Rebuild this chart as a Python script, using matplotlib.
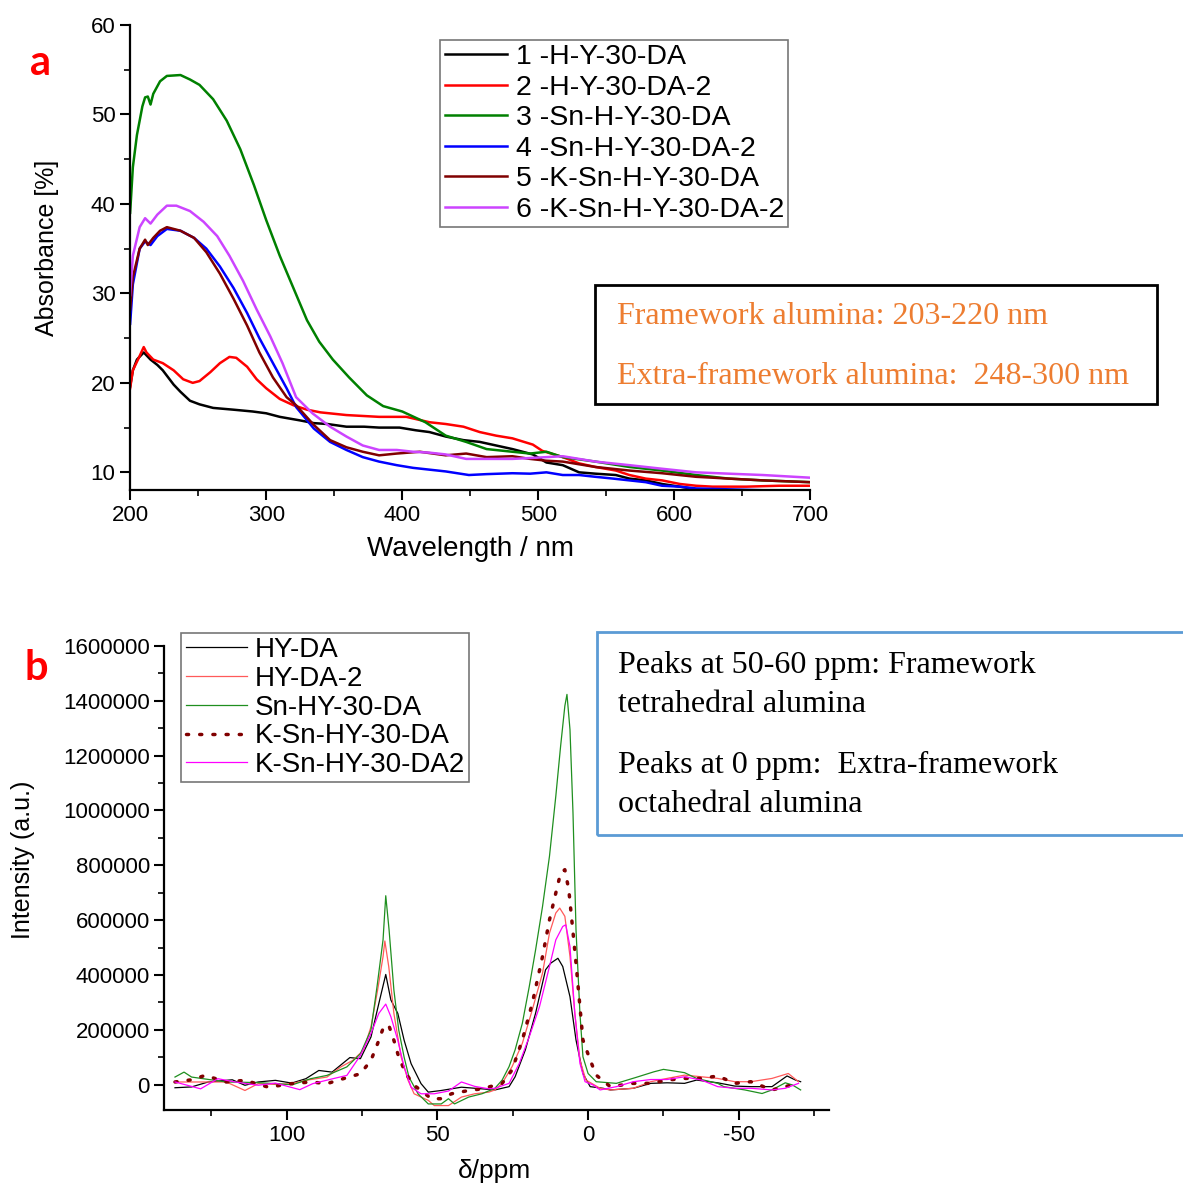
import matplotlib
matplotlib.use("Agg")
import matplotlib.pyplot as plt
from matplotlib.patches import Rectangle
from matplotlib.ticker import MultipleLocator

plt.rcParams['font.family'] = ['Liberation Sans', 'DejaVu Sans']
plt.rcParams['axes.unicode_minus'] = False

# ---------- panel a: UV-vis ----------
nm_1 = [200, 202, 205, 210, 215, 220, 224, 232, 237, 244, 251, 261, 276, 290, 300, 310, 325, 335, 345, 359, 372,
        383, 398, 410, 420, 432, 445, 457, 469, 481, 496, 506, 518, 530, 542, 557, 567, 579, 591, 604, 616, 628, 650, 700]
abs_1 = [19.6, 21.4, 22.6, 23.4, 22.6, 22.0, 21.4, 19.8, 19.0, 18.0, 17.6, 17.2, 17.0, 16.8, 16.6, 16.2, 15.8, 15.5, 15.4,
         15.1, 15.1, 15.0, 15.0, 14.7, 14.5, 14.0, 13.6, 13.4, 13.0, 12.6, 12.0, 11.1, 10.8, 10.0, 9.85, 9.7, 9.3, 9.1,
         8.7, 8.4, 8.1, 7.9, 7.9, 7.9]
nm_2 = [200, 202, 207, 210, 212, 217, 224, 232, 239, 246, 251, 259, 266, 273, 278, 286, 293, 300, 310, 320, 330, 340,
        359, 383, 403, 420, 432, 445, 457, 469, 481, 496, 503, 518, 530, 542, 557, 567, 579, 591, 604, 616, 628, 653, 677, 700]
abs_2 = [19.4, 21.4, 23.0, 24.0, 23.4, 22.6, 22.2, 21.4, 20.4, 20.0, 20.2, 21.2, 22.2, 22.9, 22.8, 21.8, 20.4, 19.4, 18.2,
         17.5, 17.0, 16.7, 16.4, 16.2, 16.2, 15.6, 15.4, 15.1, 14.5, 14.1, 13.8, 13.1, 12.4, 11.7, 11.0, 10.6, 10.2, 9.7,
         9.3, 9.1, 8.7, 8.5, 8.4, 8.4, 8.5, 8.5]
nm_3 = [200, 202, 205, 209, 211, 213, 215, 217, 222, 227, 237, 244, 251, 261, 271, 281, 291, 300, 310, 320, 330, 339,
        349, 361, 374, 386, 400, 417, 432, 447, 462, 481, 494, 506, 518, 542, 567, 591, 616, 640, 665, 700]
abs_3 = [39.0, 44.1, 47.7, 50.9, 51.9, 52.0, 51.1, 52.3, 53.7, 54.3, 54.4, 53.9, 53.3, 51.7, 49.3, 46.1, 42.1, 38.2, 34.2,
         30.6, 27.0, 24.6, 22.6, 20.6, 18.6, 17.4, 16.8, 15.6, 14.1, 13.4, 12.6, 12.3, 12.1, 12.3, 11.7, 11.2, 10.6, 10.2,
         9.7, 9.3, 9.1, 8.9]
nm_4 = [200, 202, 207, 211, 215, 220, 227, 237, 247, 256, 266, 276, 286, 295, 305, 315, 322, 335, 347, 359, 371, 383,
        396, 408, 420, 432, 449, 462, 481, 494, 506, 518, 530, 542, 555, 567, 579, 591, 604, 616, 640, 665, 700]
abs_4 = [26.6, 31.0, 35.0, 35.8, 35.4, 36.4, 37.2, 37.0, 36.2, 35.0, 33.0, 30.6, 27.8, 25.0, 22.2, 19.4, 17.3, 14.9, 13.4,
         12.5, 11.7, 11.2, 10.8, 10.5, 10.3, 10.1, 9.7, 9.8, 9.9, 9.85, 10.0, 9.7, 9.7, 9.5, 9.3, 9.1, 8.9, 8.5, 8.4, 8.2,
         8.1, 8.0, 8.0]
nm_5 = [200, 202, 207, 211, 213, 217, 222, 227, 237, 247, 256, 266, 276, 286, 295, 305, 315, 322, 335, 347, 359, 371,
        383, 396, 413, 432, 447, 462, 481, 494, 506, 518, 542, 567, 591, 616, 640, 665, 700]
abs_5 = [28.2, 31.8, 35.0, 36.0, 35.4, 36.2, 37.0, 37.4, 37.0, 36.2, 34.6, 32.2, 29.4, 26.4, 23.4, 20.6, 18.4, 17.5, 15.3,
         13.6, 12.8, 12.3, 11.9, 12.1, 12.3, 11.9, 12.1, 11.7, 11.8, 11.5, 11.3, 11.2, 10.6, 10.2, 9.9, 9.5, 9.3, 9.1, 8.9]
nm_6 = [200, 202, 207, 211, 215, 220, 227, 234, 244, 254, 264, 273, 283, 293, 303, 312, 322, 334, 347, 359, 371, 383,
        396, 408, 420, 432, 447, 462, 481, 494, 518, 530, 542, 567, 591, 616, 640, 665, 700]
abs_6 = [29.8, 34.2, 37.4, 38.4, 37.8, 38.8, 39.8, 39.8, 39.2, 38.0, 36.4, 34.2, 31.4, 28.2, 25.2, 22.2, 18.4, 16.6, 15.1,
         14.0, 13.0, 12.5, 12.5, 12.3, 12.2, 12.0, 11.5, 11.5, 11.5, 11.6, 11.8, 11.5, 11.2, 10.8, 10.4, 10.0, 9.85, 9.7, 9.4]

uv_labels = ["1 -H-Y-30-DA", "2 -H-Y-30-DA-2", "3 -Sn-H-Y-30-DA", "4 -Sn-H-Y-30-DA-2",
             "5 -K-Sn-H-Y-30-DA", "6 -K-Sn-H-Y-30-DA-2"]
uv_colors = ["black", "#ff0000", "#008000", "#0000ff", "#800000", "#cc44ff"]

# ---------- panel b: 27Al NMR (intensity in thousands) ----------
ppm_k = [137, 131.5, 126, 118, 113.8, 109.4, 103.7, 98.3, 93.6, 89.3, 84.9, 79, 75.5, 72, 69.4, 67.1, 65.4, 63.1, 61,
         58.7, 55.4, 53, 48.7, 42, 35.2, 30.9, 26.2, 24.2, 20.8, 17.4, 14.1, 12.4, 10, 8.4, 6, 4, 1.7, -0.7, -5, -7.4,
         -15, -20.8, -26.2, -32, -36, -43, -48.7, -54, -61, -66, -68.8, -70.5]
int_k = [-11, -8, 10, 18, -2, 10, 16, 6, 22, 52, 46, 99, 95, 174, 296, 402, 309, 260, 162, 77, 4, -27, -21, -9, -15,
         -19, -7, 29, 127, 261, 419, 443, 461, 431, 321, 163, 41, -7, -13, -19, -13, 5, 7, 5, 17, 7, -5, -7, -7, 32, 17, 11]
ppm_r = [137, 131.5, 120, 113.8, 109.4, 103.7, 98.3, 93.6, 86.6, 82, 78, 74.5, 72, 69.8, 68, 67.4, 66.1, 64.4, 62, 59.7,
         57.7, 53, 51, 46.3, 42, 37.6, 32.9, 30.9, 28.5, 25.2, 21.8, 18.5, 15.1, 12.8, 10.7, 9.4, 7.7, 6, 4.4, 2.7, 0.7,
         -4, -7.4, -15, -20.8, -26.2, -32, -37.6, -43, -48.7, -54, -61, -66.4, -69.8]
int_r = [10, 10, 10, -21, 4, 1, 4, 16, 28, 65, 89, 126, 211, 345, 467, 524, 430, 260, 101, 16, -33, -57, -76, -76, -45,
         -33, -27, -19, 5, 66, 151, 273, 407, 553, 626, 644, 614, 468, 261, 90, 17, -13, -19, -13, 11, 23, 35, 29, 23,
         11, 11, 23, 41, 11]
ppm_g = [137, 134, 131.5, 120, 110, 98, 92, 86.6, 80, 75.5, 72, 70, 68, 67.1, 66, 64.4, 62.8, 61, 59.4, 56.4, 53, 48.7,
         46.3, 44.3, 39.6, 35.2, 30.9, 28.5, 26.2, 24.2, 21.8, 19.5, 17.4, 15.1, 12.8, 10.7, 9.1, 7.7, 7.0, 6.0, 5.0, 4.0,
         2.7, 1.7, 0, -2.7, -9.4, -16, -21.8, -25, -32, -36, -43, -45, -52, -57.7, -61, -65.4, -67.8, -70.5]
int_g = [28, 46, 28, 10, 8, 0, 22, 34, 65, 113, 200, 357, 528, 689, 565, 345, 200, 100, 28, -33, -70, -70, -51, -70,
         -45, -33, -13, 17, 66, 127, 224, 358, 492, 650, 833, 1052, 1235, 1381, 1423, 1295, 991, 565, 260, 102, 41, 11, 5,
         27, 47, 56, 44, 23, 5, -7, -19, -32, -19, 7, -1, -19]
ppm_ks = [137, 131.5, 127, 120, 113.8, 106, 98.3, 92, 86.6, 80, 75.5, 72, 69.8, 67.8, 66.1, 64.4, 62.8, 60.4, 57.7, 54.7,
          52, 48.7, 45.3, 39.6, 35.2, 28.5, 25.2, 21.8, 18.5, 15.1, 12.8, 10.7, 9.1, 7.7, 6.4, 5.4, 4, 2.7, 1.7, -0.7,
          -2.7, -6, -7.4, -15, -20.8, -26.2, -32, -37.6, -43, -48.7, -54, -61, -65.4, -69.8]
int_ks = [10, 18, 34, 10, 16, -9, 4, 10, 4, 26, 40, 89, 150, 211, 217, 162, 101, 40, -2, -27, -51, -51, -33, -21, -15,
          5, 54, 163, 297, 468, 601, 699, 772, 784, 711, 601, 443, 285, 163, 90, 35, 5, -7, 5, 5, 17, 23, 23, 32, 5, 11,
          -19, -7, 5]
ppm_ks2 = [137, 128.5, 122.8, 117, 109.4, 103.7, 95.6, 91.3, 84.6, 80, 75.5, 72, 69.4, 67.1, 65.4, 63.1, 61, 58.7, 55.4,
           51, 46.3, 42, 37.6, 32.9, 30.9, 26.2, 22.8, 19.5, 16.1, 12.8, 10.7, 8.4, 7.4, 6, 4.4, 2.7, 1, -1.7, -4, -9.4,
           -15, -20.8, -26.2, -32, -37.6, -43, -48.7, -54, -61, -65.4, -69.8]
int_ks2 = [10, -15, 22, 10, -2, 6, -18, 4, 22, 34, 107, 187, 260, 294, 248, 162, 65, -9, -33, -33, -23, 10, -6, -15,
           -13, 5, 78, 175, 285, 431, 528, 577, 583, 504, 261, 78, 11, -1, -19, -7, 11, 19, 19, 29, 17, -7, -13, -13,
           -19, -13, 5]

fig = plt.figure(figsize=(11.83, 11.87), dpi=100)

# panel a
ax1 = fig.add_axes([0.110, 0.587, 0.575, 0.392])
for x, y, lab, c in zip([nm_1, nm_2, nm_3, nm_4, nm_5, nm_6], [abs_1, abs_2, abs_3, abs_4, abs_5, abs_6],
                        uv_labels, uv_colors):
    ax1.plot(x, y, color=c, lw=1.8, label=lab)
ax1.set_xlim(200, 700)
ax1.set_ylim(8, 60)
ax1.xaxis.set_major_locator(MultipleLocator(100))
ax1.xaxis.set_minor_locator(MultipleLocator(50))
ax1.yaxis.set_major_locator(MultipleLocator(10))
ax1.yaxis.set_minor_locator(MultipleLocator(5))
ax1.set_xlabel("Wavelength / nm", fontsize=20)
ax1.set_ylabel("Absorbance [%]", fontsize=18)
ax1.xaxis.set_label_coords(0.5, -0.098)
ax1.yaxis.set_label_coords(-0.105, 0.52)
leg1 = ax1.legend(loc="upper left", bbox_to_anchor=(0.456, 0.968), fontsize=20.5, frameon=True, fancybox=False,
                  edgecolor="#555555", handlelength=2.2, handletextpad=0.3, labelspacing=0.16, borderaxespad=0,
                  borderpad=0.15)
leg1.get_frame().set_linewidth(1.2)

# panel b
ax2 = fig.add_axes([0.139, 0.0649, 0.562, 0.391])
ax2.plot(ppm_k, [v * 1000 for v in int_k], color="black", lw=0.9, label="HY-DA")
ax2.plot(ppm_r, [v * 1000 for v in int_r], color="#ff5a5a", lw=0.9, label="HY-DA-2")
ax2.plot(ppm_g, [v * 1000 for v in int_g], color="#1f8f1f", lw=0.9, label="Sn-HY-30-DA")
ax2.plot(ppm_ks, [v * 1000 for v in int_ks], color="#800000", lw=2.5, linestyle=(0, (0.6, 3.2)),
         dash_capstyle="round", label="K-Sn-HY-30-DA")
ax2.plot(ppm_ks2, [v * 1000 for v in int_ks2], color="#ff00ff", lw=0.9, label="K-Sn-HY-30-DA2")
ax2.set_xlim(140.5, -80)
ax2.set_ylim(-92000, 1600000)
ax2.xaxis.set_major_locator(MultipleLocator(50))
ax2.xaxis.set_minor_locator(MultipleLocator(25))
ax2.yaxis.set_major_locator(MultipleLocator(200000))
ax2.yaxis.set_minor_locator(MultipleLocator(100000))
ax2.ticklabel_format(axis="y", style="plain", useOffset=False)
ax2.set_xlabel("δ/ppm", fontsize=19)
ax2.set_ylabel("Intensity (a.u.)", fontsize=18)
ax2.xaxis.set_label_coords(0.496, -0.105)
ax2.yaxis.set_label_coords(-0.195, 0.54)
leg2 = ax2.legend(loc="upper left", bbox_to_anchor=(0.0256, 1.028), fontsize=20, frameon=True, fancybox=False,
                  edgecolor="#555555", handlelength=2.2, handletextpad=0.3, labelspacing=0.1, borderaxespad=0,
                  borderpad=0.15)
leg2.get_frame().set_linewidth(1.2)

for ax in (ax1, ax2):
    for s in ("top", "right"):
        ax.spines[s].set_visible(False)
    for s in ("left", "bottom"):
        ax.spines[s].set_linewidth(1.6)
    ax.tick_params(which="major", direction="out", length=7, width=1.5, labelsize=16)
    ax.tick_params(which="minor", direction="out", length=4, width=1.2)

# annotation boxes
fig.add_artist(Rectangle((595 / 1183, 1 - 404 / 1187), (1157 - 595) / 1183, (404 - 285) / 1187,
                         transform=fig.transFigure, fill=False, edgecolor="black", lw=2))
fig.text(617 / 1183, 1 - 316 / 1187, "Framework alumina: 203-220 nm", family="Liberation Serif",
         fontsize=23, color="#ed7d31", va="center")
fig.text(617 / 1183, 1 - 377 / 1187, "Extra-framework alumina:  248-300 nm", family="Liberation Serif",
         fontsize=23, color="#ed7d31", va="center")

fig.add_artist(Rectangle((597 / 1183, 1 - 835 / 1187), 0.6, (835 - 632) / 1187,
                         transform=fig.transFigure, fill=False, edgecolor="#5b9bd5", lw=2))
for ypx, txt in [(665, "Peaks at 50-60 ppm: Framework"), (704, "tetrahedral alumina"),
                 (765, "Peaks at 0 ppm:  Extra-framework"), (804, "octahedral alumina")]:
    fig.text(618 / 1183, 1 - ypx / 1187, txt, family="Liberation Serif", fontsize=23, color="black", va="center")

fig.text(40 / 1183, 1 - 63 / 1187, "a", family=["Lato", "DejaVu Sans"], fontweight="bold", fontsize=30,
         color="#ff0000", ha="center", va="center")
fig.text(36 / 1183, 1 - 668 / 1187, "b", family=["Lato", "DejaVu Sans"], fontweight="bold", fontsize=30,
         color="#ff0000", ha="center", va="center")

fig.savefig("out.png", dpi=100)
